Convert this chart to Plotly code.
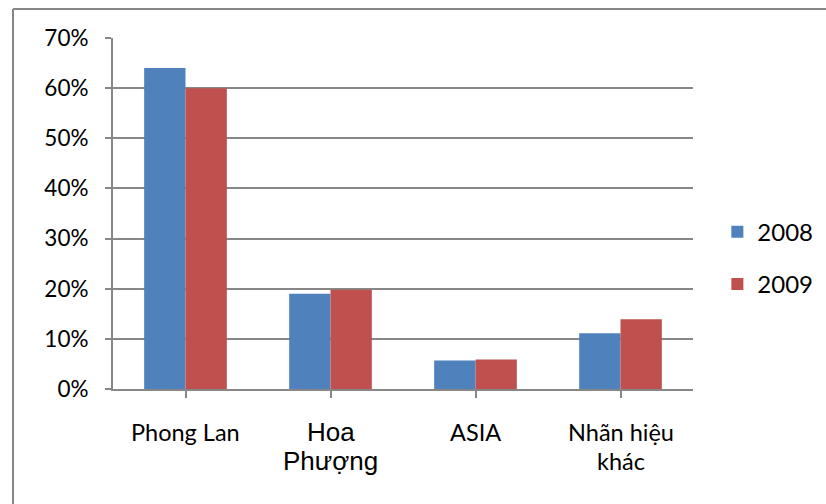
import plotly.graph_objects as go

categories = ["Phong Lan", "Hoa Phượng", "ASIA", "Nhãn hiệu khác"]
label_lines = [["Phong Lan"], ["Hoa", "Phượng"], ["ASIA"], ["Nhãn hiệu", "khác"]]
series_names = ["2008", "2009"]
values_2008 = [0.64, 0.19, 0.057, 0.111]
values_2009 = [0.60, 0.198, 0.059, 0.139]
y_ticks = [0, 0.1, 0.2, 0.3, 0.4, 0.5, 0.6, 0.7]

BLUE = "#4F81BD"
RED = "#C0504D"
GRAY = "#878787"
FONT = "Lato"

W, H = 826, 504
L, R, T, B = 113, 133, 38, 115
pw, ph = W - L - R, H - T - B

x_idx = list(range(len(categories)))

fig = go.Figure()
fig.add_trace(go.Bar(x=x_idx, y=values_2008, name=series_names[0], marker_color=BLUE,
                     marker_line_width=0, legendgroup="a"))
fig.add_trace(go.Bar(x=x_idx, y=values_2009, name=series_names[1], marker_color=RED,
                     marker_line_width=0, legendgroup="b"))

annotations = []
for i, lines in enumerate(label_lines):
    is_hoa = categories[i] == "Hoa Phượng"
    for j, line in enumerate(lines):
        annotations.append(dict(
            x=i, y=0, xref="x", yref="y", text=line, showarrow=False,
            xanchor="center", yanchor="middle",
            yshift=-(43 + 29 * j),
            font=dict(family="Liberation Sans" if is_hoa else FONT,
                      size=26 if is_hoa else 23.5, color="black"),
        ))

# outer chart border (top and left edges visible)
bx0 = (13 - L) / pw
by0 = (H - B - 9) / ph
shapes = [
    dict(type="line", xref="paper", yref="paper", x0=bx0, x1=(W - L) / pw + 0.02,
         y0=by0, y1=by0, line=dict(color=GRAY, width=2)),
    dict(type="line", xref="paper", yref="paper", x0=bx0, x1=bx0,
         y0=by0, y1=-(B + 5) / ph, line=dict(color=GRAY, width=2)),
]

fig.update_layout(
    width=W, height=H,
    margin=dict(l=L, r=R, t=T, b=B, autoexpand=False),
    paper_bgcolor="white", plot_bgcolor="white",
    barmode="group", bargap=0.43, bargroupgap=0,
    font=dict(family=FONT, color="black"),
    showlegend=True,
    legend=dict(x=1.042, xanchor="left", y=0.373, yanchor="middle",
                font=dict(family=FONT, size=24, color="black"),
                tracegroupgap=18, bgcolor="rgba(0,0,0,0)"),
    annotations=annotations,
    shapes=shapes,
    xaxis=dict(range=[-0.5, len(categories) - 0.5], tickmode="array", tickvals=x_idx,
               showticklabels=False, ticks="outside", tickson="boundaries",
               ticklen=7, tickwidth=2, tickcolor=GRAY, showline=True,
               linecolor=GRAY, linewidth=2, showgrid=False, zeroline=False,
               fixedrange=True),
    yaxis=dict(range=[0, 0.7], tickmode="array", tickvals=y_ticks,
               tickformat=".0%", ticks="outside", ticklen=6, tickwidth=2,
               tickcolor=GRAY, showline=True, linecolor=GRAY, linewidth=2,
               showgrid=True, gridcolor=GRAY, gridwidth=2, zeroline=False,
               ticklabelstandoff=12,
               tickfont=dict(family=FONT, size=22.5, color="black"),
               fixedrange=True),
)

fig.write_html("out.html")
